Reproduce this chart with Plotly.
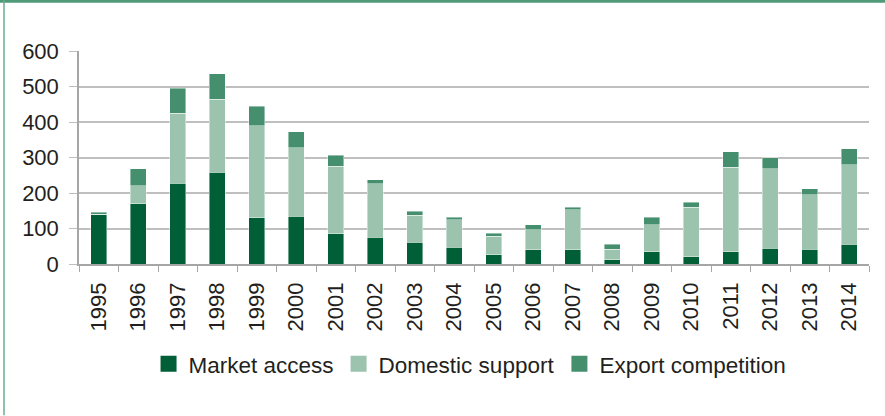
import plotly.graph_objects as go

years = [str(y) for y in range(1995, 2015)]
market_access = [140, 170, 228, 259, 130, 134, 85, 76, 61, 47, 26, 40, 40, 12, 34, 20, 34, 44, 41, 55]
domestic_support = [0, 50, 197, 205, 260, 193, 191, 150, 77, 78, 52, 57, 113, 29, 76, 140, 238, 224, 154, 224]
export_competition = [6, 48, 70, 72, 55, 45, 30, 11, 11, 7, 9, 13, 7, 14, 22, 14, 44, 31, 17, 45]

series = [
    ("Market access", market_access, "#005f37"),
    ("Domestic support", domestic_support, "#9bc3ae"),
    ("Export competition", export_competition, "#458f6f"),
]

fig = go.Figure()
for name, vals, col in series:
    fig.add_trace(go.Bar(
        x=years, y=vals, name=name, showlegend=False,
        marker=dict(color=col, line=dict(color="rgba(255,255,255,0.6)", width=0.7)),
    ))
for name, vals, col in series:
    fig.add_trace(go.Scatter(
        x=[None], y=[None], name=name, mode="markers",
        marker=dict(symbol="square", size=16, color=col),
    ))

font_family = "Liberation Sans, Arial, sans-serif"
fig.update_layout(
    barmode="stack",
    bargap=0.6,
    width=885, height=416,
    margin=dict(l=79, r=16, t=51, b=152, autoexpand=False),
    paper_bgcolor="white",
    plot_bgcolor="white",
    font=dict(family=font_family, size=22, color="#231f20"),
    showlegend=True,
    legend=dict(
        orientation="h", x=0.495, xanchor="center", y=-0.47, yanchor="middle",
        font=dict(size=22.5), traceorder="normal", itemwidth=30,
        itemclick=False,
    ),
    xaxis=dict(
        type="category", tickangle=-90, showgrid=False,
        showline=True, linecolor="#a6a6a6", linewidth=1.5,
        ticks="outside", tickson="boundaries", ticklen=6, tickcolor="#a6a6a6",
        tickfont=dict(size=22), ticklabelstandoff=8,
    ),
    yaxis=dict(
        range=[0, 600], dtick=100, showgrid=True, gridcolor="#bfbfbf", gridwidth=1.5,
        showline=True, linecolor="#a6a6a6", linewidth=1.5,
        ticks="outside", ticklen=8, tickcolor="#bfbfbf",
        tickfont=dict(size=22), zeroline=False, ticklabelstandoff=6,
    ),
    shapes=[
        dict(type="line", xref="paper", yref="paper", x0=-79/790, x1=1 + 16/790,
             y0=1 + 50/214, y1=1 + 50/214, line=dict(color="#4f9a78", width=3)),
        dict(type="line", xref="paper", yref="paper", x0=-75/790, x1=-75/790,
             y0=1 + 51/214, y1=-152/214, line=dict(color="#6aae8e", width=1.5)),
    ],
)

fig.write_html("out.html")
